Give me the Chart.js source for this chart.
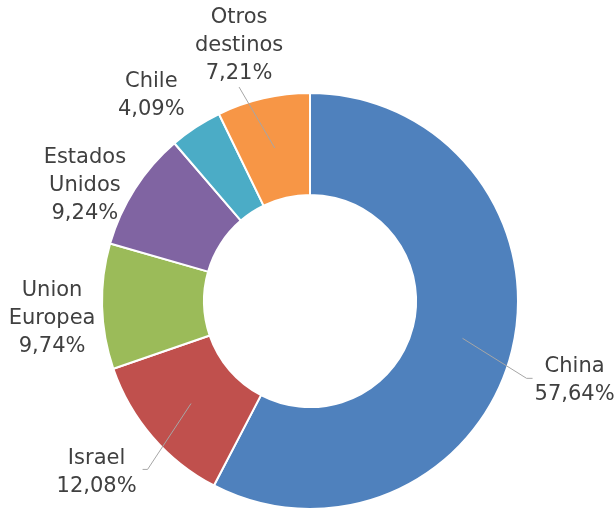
<!DOCTYPE html>
<html>
<head>
<meta charset="utf-8">
<script src="https://cdn.jsdelivr.net/npm/chart.js@4/dist/chart.umd.min.js"></script>
<style>
  html, body { margin: 0; padding: 0; background: #fff; }
  #wrap { width: 615px; height: 516px; }
</style>
</head>
<body>
<div id="wrap"><canvas id="destinos" width="615" height="516"></canvas></div>
<script>
var labels = [["China"], ["Israel"], ["Union", "Europea"], ["Estados", "Unidos"], ["Chile"], ["Otros", "destinos"]];
var shares = [57.64, 12.08, 9.74, 9.24, 4.09, 7.21];
var colors = ['#4F81BD', '#C0504D', '#9BBB59', '#8064A2', '#4BACC6', '#F79646'];

// small pixel tweaks on top of the radial label spot, and where a leader line leaves the label
var labelNudge = [[14, 18], [-18, 3], [0, 11], [-8, 24], [-17, 10], [-13, -4]];
var leaderFrom = ['left', 'right', null, null, null, 'bottom'];

function fmt(v) {
    return v.toFixed(2).replace('.', ',') + '%';
}

var outsideLabels = {
    id: 'outsideLabels',
    afterDatasetsDraw: function(chart) {
        var ctx = chart.ctx;
        var arcs = chart.getDatasetMeta(0).data;
        var lh = 28.3;
        ctx.save();
        ctx.font = '21px "DejaVu Sans"';
        ctx.fillStyle = '#404040';
        ctx.textAlign = 'center';
        ctx.textBaseline = 'middle';
        arcs.forEach(function(arc, i) {
            var p = arc.getProps(['x', 'y', 'startAngle', 'endAngle', 'innerRadius', 'outerRadius'], true);
            var mid = (p.startAngle + p.endAngle) / 2;
            var ux = Math.cos(mid), uy = Math.sin(mid);
            var cx = p.x + ux * (p.outerRadius + 50) + labelNudge[i][0];
            var cy = p.y + uy * (p.outerRadius + 50) + labelNudge[i][1];
            var lines = labels[i].concat([fmt(shares[i])]);
            var w = 0;
            lines.forEach(function(t) { w = Math.max(w, ctx.measureText(t).width); });
            var h = lines.length * lh;
            var top = cy - h / 2;
            lines.forEach(function(t, k) {
                ctx.fillText(t, cx, top + lh * (k + 0.5));
            });

            if (leaderFrom[i]) {
                var rm = (p.innerRadius + p.outerRadius) / 2;
                var ex = p.x + ux * rm, ey = p.y + uy * rm;
                ctx.strokeStyle = '#A6A6A6';
                ctx.lineWidth = 1;
                ctx.beginPath();
                if (leaderFrom[i] === 'bottom') {
                    ctx.moveTo(cx, top + h - 1);
                } else if (leaderFrom[i] === 'right') {
                    ctx.moveTo(cx + w / 2 + 6, cy - 3);
                    ctx.lineTo(cx + w / 2 + 11, cy - 3);
                } else {
                    ctx.moveTo(cx - w / 2 - 2, cy - 2);
                    ctx.lineTo(cx - w / 2 - 8, cy - 2);
                }
                ctx.lineTo(ex, ey);
                ctx.stroke();
            }
        });
        ctx.restore();
    }
};

var ctx = document.getElementById("destinos");
new Chart(ctx, {
    type: 'doughnut',
    data: {
        labels: labels,
        datasets: [{
            data: shares,
            backgroundColor: colors,
            borderColor: '#ffffff',
            borderWidth: 2
        }]
    },
    options: {
        responsive: false,
        animation: false,
        cutout: '51%',
        layout: {
            padding: { left: 101, right: 96, top: 92, bottom: 6 }
        },
        plugins: {
            legend: { display: false },
            tooltip: { enabled: false }
        }
    },
    plugins: [outsideLabels]
});
</script>
</body>
</html>
